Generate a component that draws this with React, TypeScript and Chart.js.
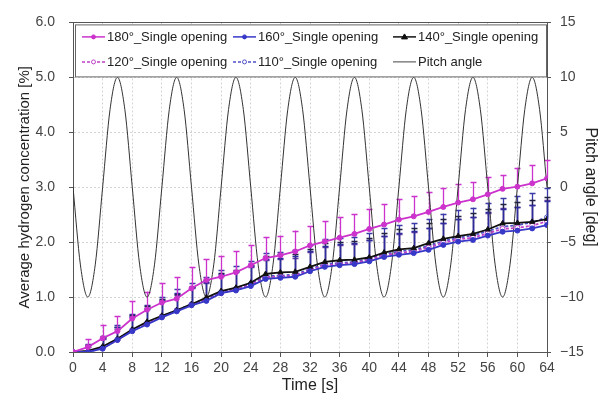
import React, { useEffect, useRef } from "react";
import { Chart, registerables } from "chart.js";

Chart.register(...registerables);

const TIME = [0, 2, 4, 6, 8, 10, 12, 14, 16, 18, 20, 22, 24, 26, 28, 30, 32, 34, 36, 38, 40, 42, 44, 46, 48, 50, 52, 54, 56, 58, 60, 62, 64];

const S180 = [0, 0.09, 0.25, 0.38, 0.61, 0.77, 0.9, 0.97, 1.16, 1.31, 1.37, 1.45, 1.58, 1.71, 1.76, 1.83, 1.94, 2.01, 2.08, 2.15, 2.24, 2.32, 2.41, 2.47, 2.55, 2.64, 2.72, 2.78, 2.87, 2.97, 3.01, 3.07, 3.16];
const S160 = [0, 0.0, 0.06, 0.22, 0.38, 0.5, 0.63, 0.74, 0.85, 0.93, 1.07, 1.12, 1.2, 1.33, 1.35, 1.37, 1.47, 1.55, 1.58, 1.6, 1.65, 1.73, 1.77, 1.8, 1.86, 1.95, 2.01, 2.04, 2.12, 2.19, 2.21, 2.25, 2.31];
const S140 = [0, 0.02, 0.1, 0.24, 0.41, 0.55, 0.66, 0.76, 0.87, 0.99, 1.11, 1.17, 1.26, 1.42, 1.45, 1.46, 1.55, 1.64, 1.67, 1.68, 1.72, 1.81, 1.87, 1.89, 1.98, 2.06, 2.11, 2.15, 2.23, 2.34, 2.35, 2.37, 2.42];
const S120 = [0, 0.0, 0.07, 0.22, 0.39, 0.52, 0.64, 0.75, 0.86, 0.95, 1.07, 1.14, 1.22, 1.36, 1.37, 1.39, 1.49, 1.58, 1.6, 1.62, 1.68, 1.76, 1.8, 1.83, 1.9, 1.99, 2.05, 2.08, 2.16, 2.24, 2.26, 2.3, 2.38];
const S110 = [0, 0.0, 0.08, 0.23, 0.4, 0.53, 0.65, 0.76, 0.87, 0.96, 1.09, 1.15, 1.24, 1.38, 1.39, 1.41, 1.51, 1.6, 1.62, 1.64, 1.7, 1.78, 1.83, 1.86, 1.93, 2.02, 2.08, 2.12, 2.2, 2.28, 2.31, 2.36, 2.45];

const E180 = [0, 0.15, 0.25, 0.28, 0.32, 0.33, 0.35, 0.39, 0.39, 0.38, 0.38, 0.38, 0.37, 0.38, 0.35, 0.38, 0.35, 0.37, 0.37, 0.36, 0.36, 0.38, 0.38, 0.37, 0.36, 0.34, 0.34, 0.32, 0.32, 0.25, 0.34, 0.34, 0.34];
const E160 = [0, 0.12, 0.2, 0.24, 0.28, 0.3, 0.32, 0.34, 0.34, 0.35, 0.35, 0.36, 0.36, 0.36, 0.36, 0.37, 0.37, 0.38, 0.38, 0.38, 0.38, 0.38, 0.39, 0.4, 0.4, 0.4, 0.41, 0.42, 0.42, 0.42, 0.43, 0.43, 0.44];
const E140 = [0, 0.1, 0.18, 0.22, 0.26, 0.28, 0.3, 0.3, 0.32, 0.32, 0.33, 0.33, 0.33, 0.32, 0.33, 0.33, 0.33, 0.34, 0.34, 0.34, 0.35, 0.35, 0.36, 0.36, 0.36, 0.37, 0.37, 0.38, 0.38, 0.36, 0.38, 0.39, 0.4];
const E120 = [0, 0.1, 0.16, 0.2, 0.24, 0.26, 0.28, 0.29, 0.3, 0.3, 0.31, 0.31, 0.32, 0.32, 0.33, 0.33, 0.33, 0.34, 0.34, 0.34, 0.35, 0.35, 0.35, 0.36, 0.36, 0.36, 0.37, 0.37, 0.37, 0.38, 0.38, 0.38, 0.39];
const E110 = [0, 0.14, 0.22, 0.27, 0.3, 0.33, 0.36, 0.38, 0.39, 0.4, 0.4, 0.41, 0.42, 0.42, 0.43, 0.44, 0.44, 0.45, 0.46, 0.46, 0.47, 0.47, 0.48, 0.48, 0.49, 0.5, 0.5, 0.51, 0.52, 0.52, 0.53, 0.53, 0.54];

const PITCH_TIME = [0, 1, 2, 3, 4, 5, 6, 7, 8, 9, 10, 11, 12, 13, 14, 15, 16, 17, 18, 19, 20, 21, 22, 23, 24, 25, 26, 27, 28, 29, 30, 31, 32, 33, 34, 35, 36, 37, 38, 39, 40, 41, 42, 43, 44, 45, 46, 47, 48, 49, 50, 51, 52, 53, 54, 55, 56, 57, 58, 59, 60, 61, 62, 63, 64];
const PITCH = [
  0, -7.07, -10, -7.07, 0, 7.07, 10, 7.07,
  0, -7.07, -10, -7.07, 0, 7.07, 10, 7.07,
  0, -7.07, -10, -7.07, 0, 7.07, 10, 7.07,
  0, -7.07, -10, -7.07, 0, 7.07, 10, 7.07,
  0, -7.07, -10, -7.07, 0, 7.07, 10, 7.07,
  0, -7.07, -10, -7.07, 0, 7.07, 10, 7.07,
  0, -7.07, -10, -7.07, 0, 7.07, 10, 7.07,
  0, -7.07, -10, -7.07, 0, 7.07, 10, 7.07,
  0,
];

const LABELS = ["180°_Single opening", "160°_Single opening", "140°_Single opening", "120°_Single opening", "110°_Single opening", "Pitch angle"];

const FONT = "'Liberation Sans', Arial, sans-serif";

type Series = {
  label: string;
  values: number[];
  err: number[];
  color: string;
  errColor: string;
  dash: number[];
  pointStyle: string;
  fill: string;
  radius: number;
};

const SERIES: Series[] = [
  { label: LABELS[0], values: S180, err: E180, color: "#cc33cc", errColor: "#cc33cc", dash: [], pointStyle: "circle", fill: "#cc33cc", radius: 2.5 },
  { label: LABELS[1], values: S160, err: E160, color: "#3838c8", errColor: "#2c2c9c", dash: [], pointStyle: "circle", fill: "#3838c8", radius: 2.5 },
  { label: LABELS[2], values: S140, err: E140, color: "#111111", errColor: "#222244", dash: [], pointStyle: "triangle", fill: "#111111", radius: 3 },
  { label: LABELS[3], values: S120, err: E120, color: "#c040c8", errColor: "#6a3aa8", dash: [3, 2], pointStyle: "circle", fill: "#ffffff", radius: 2.5 },
  { label: LABELS[4], values: S110, err: E110, color: "#5050c8", errColor: "#3a3aa8", dash: [3, 2], pointStyle: "circle", fill: "#ffffff", radius: 2.5 },
];

const errorBarPlugin = {
  id: "errorBars",
  beforeDatasetsDraw(chart: any) {
    const { ctx } = chart;
    const xs = chart.scales.x;
    const ys = chart.scales.y;
    const order = [4, 3, 2, 1, 0];
    ctx.save();
    order.forEach((k) => {
      const s = SERIES[k];
      ctx.strokeStyle = s.errColor;
      ctx.lineWidth = 1.3;
      ctx.setLineDash([]);
      for (let i = 0; i < TIME.length; i++) {
        if (!s.err[i]) continue;
        const px = Math.round(xs.getPixelForValue(TIME[i])) + 0.5;
        const p0 = ys.getPixelForValue(s.values[i]);
        const p1 = ys.getPixelForValue(s.values[i] + s.err[i]);
        ctx.beginPath();
        ctx.moveTo(px, p0);
        ctx.lineTo(px, p1);
        ctx.moveTo(px - 3, Math.round(p1) + 0.5);
        ctx.lineTo(px + 3, Math.round(p1) + 0.5);
        ctx.stroke();
      }
    });
    ctx.restore();
  },
};

function drawMarker(ctx: CanvasRenderingContext2D, s: Series, x: number, y: number) {
  ctx.save();
  ctx.setLineDash([]);
  ctx.fillStyle = s.fill;
  ctx.strokeStyle = s.color;
  ctx.lineWidth = 1;
  ctx.beginPath();
  if (s.pointStyle === "triangle") {
    ctx.moveTo(x, y - 3);
    ctx.lineTo(x + 3, y + 2);
    ctx.lineTo(x - 3, y + 2);
    ctx.closePath();
  } else {
    ctx.arc(x, y, 2, 0, Math.PI * 2);
  }
  ctx.fill();
  ctx.stroke();
  ctx.restore();
}

const legendPlugin = {
  id: "customLegend",
  afterDraw(chart: any) {
    const { ctx, chartArea } = chart;
    const left = chartArea.left;
    const top = chartArea.top;
    ctx.save();
    ctx.strokeStyle = "#555";
    ctx.lineWidth = 1;
    ctx.setLineDash([]);
    ctx.beginPath();
    ctx.moveTo(chartArea.left, Math.round(top) + 0.5);
    ctx.lineTo(chartArea.right, Math.round(top) + 0.5);
    ctx.stroke();
    const bx = left + 2.5;
    const by = top + 2.5;
    const bw = chartArea.right - left - 3;
    const bh = 52;
    ctx.fillStyle = "#ffffff";
    ctx.fillRect(bx, by, bw, bh);
    ctx.strokeStyle = "#666";
    ctx.strokeRect(bx, by, bw, bh);

    const cols = [left + 9, left + 160, left + 320];
    const rows = [top + 14, top + 39];
    ctx.font = "13px " + FONT;
    ctx.textBaseline = "middle";
    ctx.textAlign = "left";
    LABELS.forEach((lab, i) => {
      const cx = cols[i % 3];
      const cy = rows[Math.floor(i / 3)];
      ctx.beginPath();
      if (i < 5) {
        const s = SERIES[i];
        ctx.strokeStyle = s.color;
        ctx.lineWidth = 1.5;
        ctx.setLineDash(s.dash);
        ctx.moveTo(cx, cy + 0.5);
        ctx.lineTo(cx + 23, cy + 0.5);
        ctx.stroke();
        drawMarker(ctx, s, cx + 11.5, cy + 0.5);
      } else {
        ctx.strokeStyle = "#444";
        ctx.lineWidth = 1;
        ctx.setLineDash([]);
        ctx.moveTo(cx, cy + 0.5);
        ctx.lineTo(cx + 23, cy + 0.5);
        ctx.stroke();
      }
      ctx.fillStyle = "#222";
      ctx.fillText(lab, cx + 25, cy + 1);
    });
    ctx.restore();
  },
};

export default function App() {
  const ref = useRef<HTMLCanvasElement | null>(null);

  useEffect(() => {
    if (!ref.current) return;
    const datasets: any[] = SERIES.map((s) => ({
      label: s.label,
      data: TIME.map((t, i) => ({ x: t, y: s.values[i] })),
      yAxisID: "y",
      borderColor: s.color,
      backgroundColor: s.fill,
      borderWidth: 1.8,
      borderDash: s.dash,
      pointStyle: s.pointStyle,
      pointRadius: s.radius,
      pointBorderWidth: 1,
      pointBorderColor: s.color,
      pointBackgroundColor: s.fill,
      tension: 0,
    }));
    datasets.push({
      label: LABELS[5],
      data: PITCH_TIME.map((t, i) => ({ x: t, y: PITCH[i] })),
      yAxisID: "y2",
      borderColor: "#333",
      borderWidth: 1,
      pointRadius: 0,
      cubicInterpolationMode: "monotone",
    });

    const tickFont = { family: FONT, size: 14 };

    const chart = new Chart(ref.current, {
      type: "line",
      data: { datasets },
      options: {
        animation: false,
        responsive: false,
        maintainAspectRatio: false,
        layout: { padding: { top: 13, left: 0, right: 0, bottom: 0 } },
        plugins: { legend: { display: false }, tooltip: { enabled: false } },
        scales: {
          x: {
            type: "linear",
            min: 0,
            max: 64,
            ticks: { stepSize: 4, font: tickFont, color: "#444", padding: 3, maxRotation: 0 },
            grid: { color: "#d4d4d4", lineWidth: 1, tickLength: 5, tickColor: "#555", tickBorderDash: [] },
            border: { color: "#555", dash: [2, 2] },
            title: { display: true, text: "Time [s]", font: { family: FONT, size: 16 }, color: "#222", padding: { top: 0, bottom: 1 } },
            afterFit: (s: any) => { s.height = 44; },
          },
          y: {
            position: "left",
            min: 0,
            max: 6,
            ticks: { stepSize: 1, font: tickFont, color: "#444", padding: 14, callback: (v: any) => Number(v).toFixed(1) },
            grid: { color: "#d4d4d4", lineWidth: 1, tickLength: 4, tickColor: "#555", tickBorderDash: [] },
            border: { color: "#555", dash: [2, 2] },
            title: { display: true, text: "Average hydrogen concentration [%]", font: { family: FONT, size: 15 }, color: "#222", padding: { top: 16, bottom: 0 } },
            afterFit: (s: any) => { s.width = 73; },
          },
          y2: {
            position: "right",
            min: -15,
            max: 15,
            ticks: { stepSize: 5, font: tickFont, color: "#444", padding: 9, callback: (v: any) => (Number(v) < 0 ? "\u2212" + Math.abs(Number(v)) : String(v)) },
            grid: { drawOnChartArea: false, tickLength: 4, tickColor: "#555", tickBorderDash: [] },
            border: { color: "#555" },
            title: { display: true, text: "Pitch angle [deg]", font: { family: FONT, size: 16 }, color: "#222", padding: { top: 6, bottom: 0 } },
            afterFit: (s: any) => { s.width = 59; },
          },
        },
      } as any,
      plugins: [errorBarPlugin, legendPlugin],
    });
    return () => chart.destroy();
  }, []);

  return (
    <div style={{ position: "fixed", left: 0, top: 0, width: 606, height: 396, background: "#fff" }}>
      <canvas ref={ref} width={606} height={396} style={{ width: 606, height: 396 }} />
    </div>
  );
}
